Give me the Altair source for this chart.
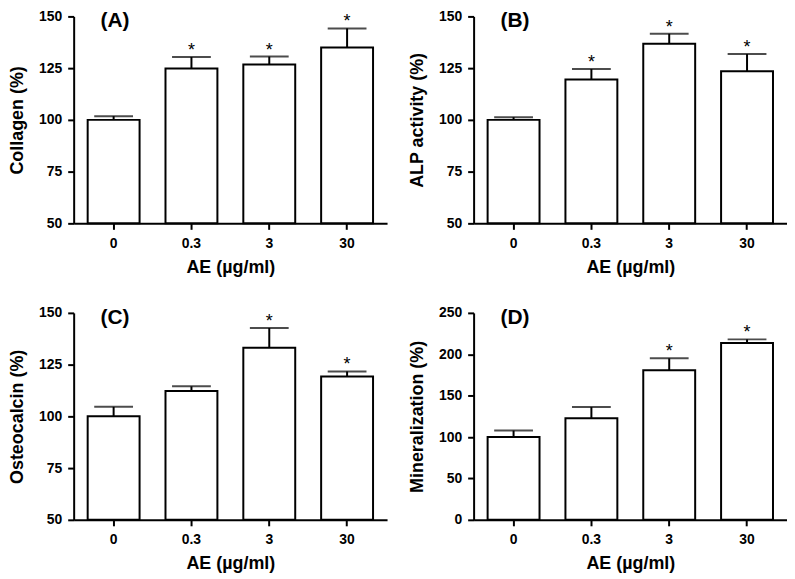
import altair as alt
import pandas as pd

categories = ["0", "0.3", "3", "30"]

collagen = [100, 124.8, 126.8, 135.0]
collagen_err = [1.8, 5.6, 3.8, 9.2]
collagen_star = ["", "*", "*", "*"]

alp = [100, 119.5, 136.8, 123.5]
alp_err = [1.3, 5.1, 4.8, 8.3]
alp_star = ["", "*", "*", "*"]

osteo = [100, 112.2, 133.1, 119.3]
osteo_err = [4.6, 2.3, 9.6, 2.4]
osteo_star = ["", "", "*", "*"]

mineral = [100, 122.6, 180.7, 213.5]
mineral_err = [7.8, 13.6, 14.4, 4.5]
mineral_star = ["", "", "*", "*"]

FONT = "Liberation Sans"
W, H = 315, 208


def panel(vals, errs, stars, ytitle, domain, ticks, label):
    df = pd.DataFrame({
        "cat": categories,
        "val": vals,
        "hi": [v + e for v, e in zip(vals, errs)],
        "base": [domain[0]] * len(vals),
        "star": stars,
    })
    x = alt.X("cat:N", sort=categories, title="AE (\u00b5g/ml)",
              scale=alt.Scale(paddingInner=0.333, paddingOuter=0.18),
              axis=alt.Axis(labelAngle=0, labelPadding=7, titlePadding=8))
    yscale = alt.Scale(domain=domain, nice=False, zero=False)
    yaxis = alt.Axis(values=ticks, grid=False, labelPadding=6, titlePadding=12)
    base = alt.Chart(df)
    bars = base.mark_bar(fill="white", stroke="black", strokeWidth=2).encode(
        x=x,
        y=alt.Y("val:Q", scale=yscale, axis=yaxis, title=ytitle),
        y2="base:Q",
    )
    rule = base.mark_rule(color="black", strokeWidth=2).encode(
        x=x, y=alt.Y("val:Q", scale=yscale), y2="hi:Q"
    )
    cap = base.mark_tick(color="black", thickness=2, size=39, orient="horizontal").encode(
        x=x, y=alt.Y("hi:Q", scale=yscale)
    )
    star = base.mark_text(font=FONT, fontSize=18, baseline="alphabetic", dy=-1, color="black").encode(
        x=x, y=alt.Y("hi:Q", scale=yscale), text="star:N"
    )
    return alt.layer(bars, rule, cap, star).properties(
        width=W, height=H,
        title=alt.TitleParams(text=label, anchor="start", frame="group", font=FONT,
                              fontSize=21, fontWeight="bold", color="black",
                              baseline="top", dx=27, dy=26),
    )


pA = panel(collagen, collagen_err, collagen_star, "Collagen (%)", [50, 150], [50, 75, 100, 125, 150], "(A)")
pB = panel(alp, alp_err, alp_star, "ALP activity (%)", [50, 150], [50, 75, 100, 125, 150], "(B)")
pC = panel(osteo, osteo_err, osteo_star, "Osteocalcin (%)", [50, 150], [50, 75, 100, 125, 150], "(C)")
pD = panel(mineral, mineral_err, mineral_star, "Mineralization (%)", [0, 250], [0, 50, 100, 150, 200, 250], "(D)")

chart = alt.vconcat(
    alt.hconcat(pA, pB, spacing=21),
    alt.hconcat(pC, pD, spacing=21),
    spacing=30,
).properties(padding=0).configure_view(stroke=None).configure_axis(
    labelFont=FONT, titleFont=FONT, labelFontSize=14, titleFontSize=18,
    labelFontWeight="bold", titleFontWeight="bold", labelColor="black", titleColor="black",
    domainColor="black", domainWidth=2, tickColor="black", tickWidth=2, tickSize=6,
)

chart.save("out.html", embed_options={"renderer": "svg", "actions": False})
